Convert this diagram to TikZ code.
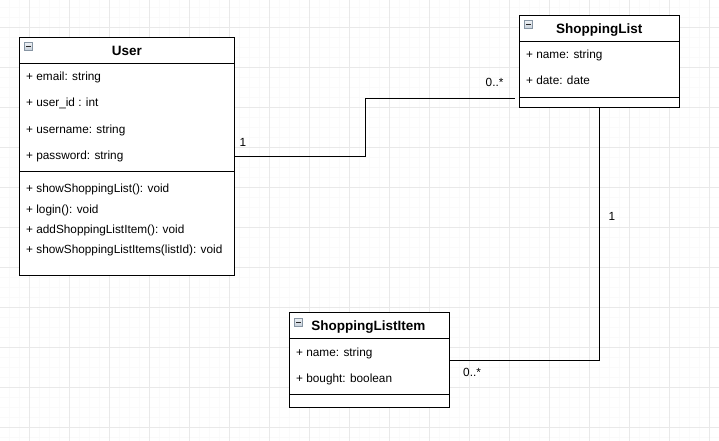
\documentclass[tikz,border=0pt]{standalone}
\usepackage{fontspec}
\setmainfont{Liberation Sans}
\usetikzlibrary{calc}
\definecolor{gridmajor}{HTML}{E9E9E9}
\definecolor{gridminor}{HTML}{FAFAFA}
\definecolor{iconfill}{HTML}{C5CFDA}
\definecolor{iconborder}{HTML}{8795A3}
\tikzset{
  umlbox/.style={draw=black, line width=1pt, fill=white, inner sep=0, outer sep=0, anchor=north west},
  divider/.style={draw=black, line width=1pt},
  conn/.style={draw=black, line width=1pt},
  attr/.style={anchor=base west, inner sep=0, font=\fontsize{11.8}{14}\selectfont},
  umltitle/.style={anchor=base, inner sep=0, font=\bfseries\fontsize{13.5}{16}\selectfont},
  mult/.style={anchor=base west, inner sep=0, font=\fontsize{11.8}{14}\selectfont},
  icon/.style={draw=iconborder, line width=0.7pt, top color=white!70!iconfill, bottom color=iconfill, minimum width=8, minimum height=8, inner sep=0, anchor=north west},
  minus/.style={line width=1pt, draw=black!85},
}
\begin{document}
\begin{tikzpicture}[x=1pt,y=-1pt]
\useasboundingbox (0,0) rectangle (719,441);
% grid
\fill[white] (0,0) rectangle (719,441);
\foreach \gx in {9.5,19.5,...,719} \draw[gridminor, line width=1pt] (\gx,0) -- (\gx,441);
\foreach \gy in {7.5,17.5,...,441} \draw[gridminor, line width=1pt] (0,\gy) -- (719,\gy);
\foreach \gx in {29.5,69.5,...,719} \draw[gridmajor, line width=1pt] (\gx,0) -- (\gx,441);
\foreach \gy in {27.5,67.5,...,441} \draw[gridmajor, line width=1pt] (0,\gy) -- (719,\gy);

% User
\node[umlbox, minimum width=215, minimum height=237.7] (user) at (19.3,37.3) {};
\draw[divider] (user.west |- 0,63.3) -- (user.east |- 0,63.3);
\draw[divider] (user.west |- 0,171.3) -- (user.east |- 0,171.3);
\node[icon] (usericon) at (24.3,42.3) {};
\draw[minus] ($(usericon.west)+(1.8,0)$) -- ($(usericon.east)+(-1.8,0)$);
\node[umltitle] (usertitle) at (126.8,56) {User};
\node[attr] (u1) at (26,80.7) {+ email: string};
\node[attr] (u2) at (26,106.7) {+ user\_id : int};
\node[attr] (u3) at (26,133) {+ username: string};
\node[attr] (u4) at (26,159) {+ password: string};
\node[attr] (m1) at (26,192.3) {+ showShoppingList(): void};
\node[attr] (m2) at (26,213) {+ login(): void};
\node[attr] (m3) at (26,233) {+ addShoppingListItem(): void};
\node[attr] (m4) at (26,253) {+ showShoppingListItems(listId): void};

% ShoppingList
\node[umlbox, minimum width=160, minimum height=92] (sl) at (519.3,15.3) {};
\draw[divider] (sl.west |- 0,41.7) -- (sl.east |- 0,41.7);
\draw[divider] (sl.west |- 0,97.3) -- (sl.east |- 0,97.3);
\node[icon] (slicon) at (524.3,20.5) {};
\draw[minus] ($(slicon.west)+(1.8,0)$) -- ($(slicon.east)+(-1.8,0)$);
\node[umltitle] (sltitle) at (599.3,34) {ShoppingList};
\node[attr] (s1) at (526,58.3) {+ name: string};
\node[attr] (s2) at (526,84.7) {+ date: date};

% ShoppingListItem
\node[umlbox, minimum width=160, minimum height=94.6] (sli) at (289.3,312.7) {};
\draw[divider] (sli.west |- 0,338.7) -- (sli.east |- 0,338.7);
\draw[divider] (sli.west |- 0,394.3) -- (sli.east |- 0,394.3);
\node[icon] (sliicon) at (294.3,318) {};
\draw[minus] ($(sliicon.west)+(1.8,0)$) -- ($(sliicon.east)+(-1.8,0)$);
\node[umltitle] (slititle) at (368.3,330.7) {ShoppingListItem};
\node[attr] (i1) at (296,356) {+ name: string};
\node[attr] (i2) at (296,382) {+ bought: boolean};

% connectors
\coordinate (c1end) at ($(sl.west |- 0,98.3)+(-4,0)$);
\draw[conn] (user.east |- 0,156.3) -| (365.3,98.3) -- (c1end);
\draw[conn] (sl.south) |- (sli.east |- 0,360);

% multiplicities
\node[mult] (l1) at (239.5,146.5) {1};
\node[mult] (l2) at (485.5,86.3) {0..*};
\node[mult] (l3) at (608.5,220.3) {1};
\node[mult] (l4) at (463,376.7) {0..*};
\end{tikzpicture}
\end{document}
